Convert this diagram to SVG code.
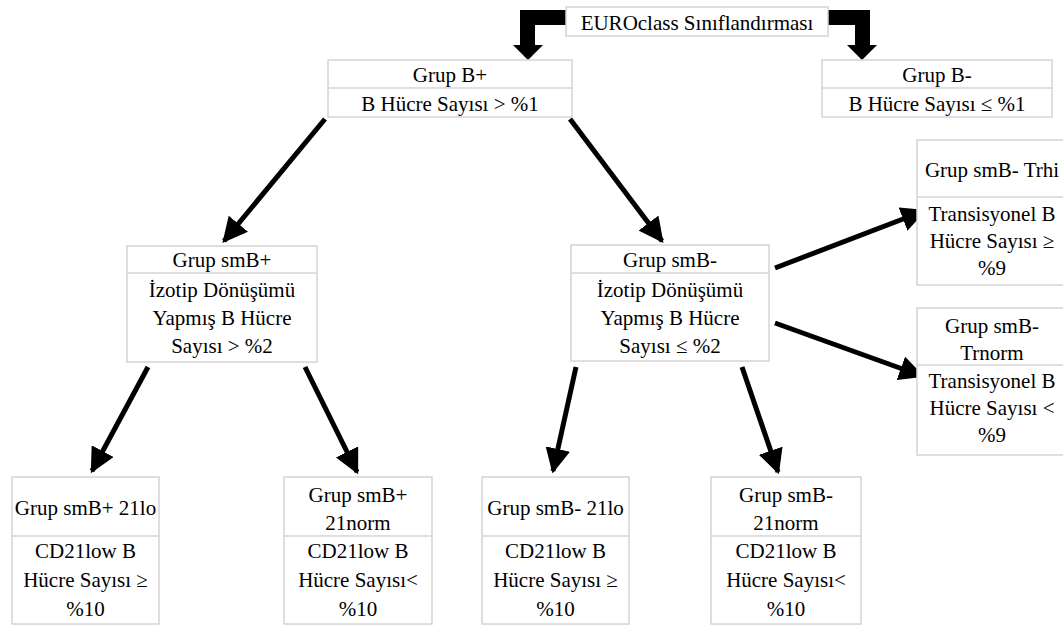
<svg xmlns="http://www.w3.org/2000/svg" width="1063" height="626" viewBox="0 0 1063 626">
<defs>
<style>
.box{fill:#fff;stroke:#d4d4d4;stroke-width:1.5}
.div{stroke:#d4d4d4;stroke-width:1.5}
text{font-family:"Liberation Serif","Times New Roman",serif;font-size:21px;fill:#000;text-anchor:middle}
.arr{stroke:#000;stroke-width:5;fill:none;marker-end:url(#ah)}
</style>
<marker id="ah" viewBox="0 0 10 10" refX="9" refY="5" markerWidth="5" markerHeight="5" orient="auto" markerUnits="strokeWidth">
<path d="M0,0 L10,5 L0,10 z" fill="#000"/>
</marker>
</defs>
<rect width="1063" height="626" fill="#fff"/>

<g id="connectors">
<path d="M566,10 L520,10 L520,45 L513,45 L528,60 L543,45 L535,45 L535,25 L566,25 z" fill="#000"/>
<path d="M828,10 L870,10 L870,45 L877,45 L862,60 L847,45 L855,45 L855,25 L828,25 z" fill="#000"/>
<line class="arr" x1="325" y1="119" x2="224" y2="241"/>
<line class="arr" x1="570" y1="119" x2="662" y2="241"/>
<line class="arr" x1="775" y1="268" x2="924" y2="211"/>
<line class="arr" x1="775" y1="323" x2="922" y2="376"/>
<line class="arr" x1="148" y1="367" x2="92" y2="471"/>
<line class="arr" x1="305" y1="367" x2="357" y2="472"/>
<line class="arr" x1="576" y1="367" x2="553" y2="471"/>
<line class="arr" x1="742" y1="367" x2="778" y2="472"/>
</g>

<g id="root">
<rect class="box" x="566" y="7" width="262" height="29"/>
<text x="697" y="30">EUROclass Sınıflandırması</text>
</g>

<g id="grupBplus">
<rect class="box" x="328" y="60" width="244" height="57"/>
<line class="div" x1="328" y1="88" x2="572" y2="88"/>
<text x="450" y="82">Grup B+</text>
<text x="450" y="111">B Hücre Sayısı &gt; %1</text>
</g>

<g id="grupBminus">
<rect class="box" x="822" y="60" width="230" height="57"/>
<line class="div" x1="822" y1="88" x2="1052" y2="88"/>
<text x="937" y="82">Grup B-</text>
<text x="937" y="111">B Hücre Sayısı ≤ %1</text>
</g>

<g id="smBplus">
<rect class="box" x="127" y="246" width="190" height="116"/>
<line class="div" x1="127" y1="273" x2="317" y2="273"/>
<text x="222" y="267">Grup smB+</text>
<text x="222" y="297">İzotip Dönüşümü</text>
<text x="222" y="325">Yapmış B Hücre</text>
<text x="222" y="353">Sayısı &gt; %2</text>
</g>

<g id="smBminus">
<rect class="box" x="571" y="245" width="198" height="116"/>
<line class="div" x1="571" y1="273" x2="769" y2="273"/>
<text x="670" y="267">Grup smB-</text>
<text x="670" y="297">İzotip Dönüşümü</text>
<text x="670" y="325">Yapmış B Hücre</text>
<text x="670" y="353">Sayısı ≤ %2</text>
</g>

<g id="trhi">
<rect class="box" x="917" y="140" width="150" height="145"/>
<line class="div" x1="917" y1="197" x2="1067" y2="197"/>
<text x="992" y="177">Grup smB- Trhi</text>
<text x="992" y="221">Transisyonel B</text>
<text x="992" y="248">Hücre Sayısı ≥</text>
<text x="992" y="275">%9</text>
</g>

<g id="trnorm">
<rect class="box" x="917" y="308" width="150" height="147"/>
<line class="div" x1="917" y1="365" x2="1067" y2="365"/>
<text x="992" y="333">Grup smB-</text>
<text x="992" y="360">Trnorm</text>
<text x="992" y="388">Transisyonel B</text>
<text x="992" y="415">Hücre Sayısı &lt;</text>
<text x="992" y="442">%9</text>
</g>

<g id="smBplus21lo">
<rect class="box" x="12" y="477" width="147" height="147"/>
<line class="div" x1="12" y1="536" x2="159" y2="536"/>
<text x="85.5" y="515">Grup smB+ 21lo</text>
<text x="85.5" y="558">CD21low B</text>
<text x="85.5" y="587">Hücre Sayısı ≥</text>
<text x="85.5" y="616">%10</text>
</g>

<g id="smBplus21norm">
<rect class="box" x="284" y="477" width="148" height="147"/>
<line class="div" x1="284" y1="536" x2="432" y2="536"/>
<text x="358" y="502">Grup smB+</text>
<text x="358" y="530">21norm</text>
<text x="358" y="558">CD21low B</text>
<text x="358" y="587">Hücre Sayısı&lt;</text>
<text x="358" y="616">%10</text>
</g>

<g id="smBminus21lo">
<rect class="box" x="482" y="477" width="147" height="147"/>
<line class="div" x1="482" y1="536" x2="629" y2="536"/>
<text x="555.5" y="515">Grup smB- 21lo</text>
<text x="555.5" y="558">CD21low B</text>
<text x="555.5" y="587">Hücre Sayısı ≥</text>
<text x="555.5" y="616">%10</text>
</g>

<g id="smBminus21norm">
<rect class="box" x="711" y="477" width="150" height="147"/>
<line class="div" x1="711" y1="536" x2="861" y2="536"/>
<text x="786" y="502">Grup smB-</text>
<text x="786" y="530">21norm</text>
<text x="786" y="558">CD21low B</text>
<text x="786" y="587">Hücre Sayısı&lt;</text>
<text x="786" y="616">%10</text>
</g>
</svg>
